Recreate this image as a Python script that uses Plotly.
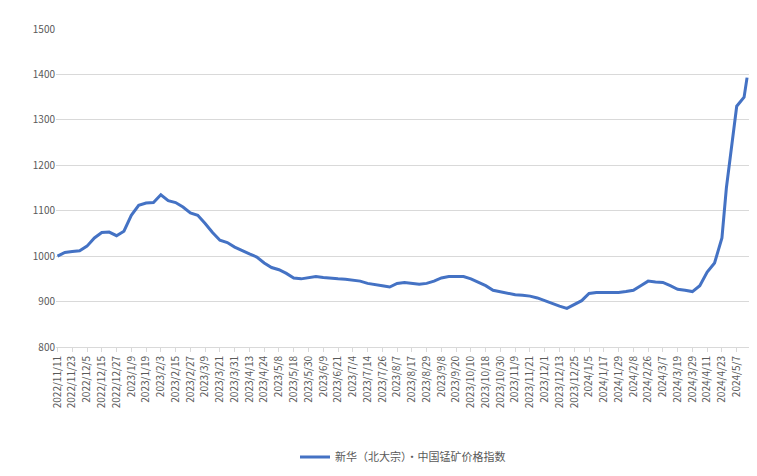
import plotly.graph_objects as go

tick_labels = ["2022/11/11","2022/11/23","2022/12/5","2022/12/15","2022/12/27","2023/1/9","2023/1/19","2023/2/3",
"2023/2/15","2023/2/27","2023/3/9","2023/3/21","2023/3/31","2023/4/13","2023/4/24","2023/5/8","2023/5/18",
"2023/5/30","2023/6/9","2023/6/21","2023/7/4","2023/7/14","2023/7/26","2023/8/7","2023/8/17","2023/8/29",
"2023/9/8","2023/9/20","2023/10/10","2023/10/18","2023/10/30","2023/11/9","2023/11/21","2023/12/1",
"2023/12/13","2023/12/25","2024/1/5","2024/1/17","2024/1/29","2024/2/8","2024/2/26","2024/3/7","2024/3/19",
"2024/3/29","2024/4/11","2024/4/23","2024/5/7"]

# sample positions in trading-day label units, with read values
pos = [0,0.5,1,1.5,2,2.5,3,3.5,4,4.5,5,5.5,6,6.5,7,7.5,8,8.5,9,9.5,10,10.5,11,11.5,12,12.5,13,13.5,14,14.5,
       15,15.5,16,16.5,17,17.5,18,18.5,19,19.5,20,20.5,21,21.5,22,22.5,23,23.5,24,24.5,25,25.5,26,26.5,27,27.5,
       28,28.5,29,29.5,30,30.5,31,31.5,32,32.5,33,33.5,34,34.5,35,35.5,36,36.5,37,37.5,38,38.5,39,39.5,40,40.5,
       41,41.5,42,42.5,43,43.5,44,44.5,45,45.3,45.5,45.75,46,46.5,46.7]
vals = [1000,1008,1010,1012,1022,1040,1052,1053,1045,1055,1090,1112,1117,1118,1135,1122,1118,1108,1095,1090,
        1072,1052,1035,1030,1020,1012,1005,998,985,975,970,962,952,950,952,955,953,951,950,949,947,945,940,938,
        935,932,940,942,940,938,940,945,952,955,955,955,950,942,935,925,922,918,915,914,912,908,902,895,890,885,
        893,902,918,920,920,920,920,922,925,935,945,943,942,935,927,925,922,935,965,985,1040,1150,1200,1270,1330,
        1350,1393]

fig = go.Figure(go.Scatter(x=pos, y=vals, mode="lines", name="新华（北大宗）·中国锰矿价格指数",
                           line=dict(color="#4472C4", width=3)))
fig.update_layout(
    width=757, height=476, paper_bgcolor="white", plot_bgcolor="white",
    margin=dict(l=48, r=15, t=14, b=118),
    font=dict(family="Noto Sans CJK SC", size=10, color="#595959"),
    showlegend=True,
    legend=dict(orientation="h", x=0.5, xanchor="center", y=-0.3, yanchor="top", font=dict(size=11)),
    xaxis=dict(range=[-0.1, 46.9], tickmode="array", tickvals=list(range(len(tick_labels))),
               ticktext=tick_labels, tickangle=-90, showgrid=False, showline=True, linecolor="#D9D9D9",
               ticks="outside", tickcolor="#D9D9D9", ticklen=4, zeroline=False, automargin=False),
    yaxis=dict(range=[800, 1500], dtick=100, gridcolor="#D9D9D9", showline=False, zeroline=False),
)
fig.write_html("out.html")
